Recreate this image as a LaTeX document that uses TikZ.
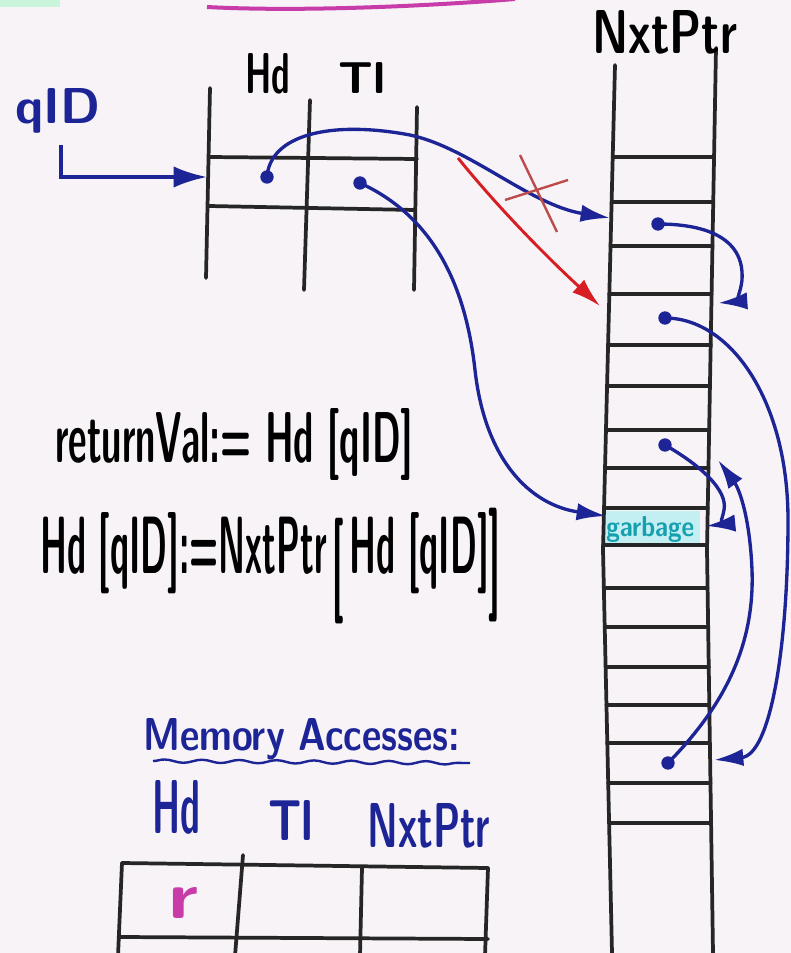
\documentclass[tikz,border=0pt]{standalone}
\usepackage{graphicx}
\usetikzlibrary{arrows.meta,decorations.pathmorphing}
\definecolor{bg}{RGB}{247,243,247}
\definecolor{ink}{RGB}{38,38,38}
\definecolor{pen}{RGB}{28,36,150}
\definecolor{redpen}{RGB}{215,30,35}
\definecolor{xred}{RGB}{190,75,75}
\definecolor{mag}{RGB}{200,60,170}
\definecolor{gteal}{RGB}{20,160,175}
\definecolor{cyanbg}{RGB}{195,238,242}
\definecolor{mint}{RGB}{200,245,220}
\newcommand{\hw}[3]{\resizebox{#1}{#2}{\sffamily\bfseries #3}}
\newcommand{\tallL}{\raisebox{-0.3em}{\scalebox{1}[1.3]{[}}}
\newcommand{\tallR}{\raisebox{-0.25em}{\scalebox{1}[1.4]{]}}}
\begin{document}
\begin{tikzpicture}[x=0.75pt,y=-0.75pt,
  grid/.style={ink, line width=2.8pt, line cap=round},
  ptr/.style={pen, line width=2.5pt, -{Latex[length=22pt,width=13pt]}},
  redarr/.style={redpen, line width=2.2pt, -{Latex[length=22pt,width=13pt]}},
  lbl/.style={inner sep=0pt, anchor=base west},
  dot/.style={pen}]
\useasboundingbox (0,0) rectangle (791,953);
\fill[bg] (0,0) rectangle (791,953);
\clip (0,0) rectangle (791,953);
% top remnants
\fill[mint] (0,0) rectangle (60,7);
\draw[mag, line width=3pt] (207,7) .. controls (300,12) and (430,6) .. (515,-1);
% garbage highlight
\fill[cyanbg] (604,511) rectangle (700,544);
% NxtPtr column
\draw[grid] (615,65) -- (603,550) -- (612,953);
\draw[grid] (716,48) -- (707,550) -- (713,953);
\foreach \yy in {157,202,246,294,345,386,430,468,508,545,588,627,667,705,743,783,823}{
  \pgfmathsetmacro\xl{\yy<550 ? 615-12*(\yy-65)/485 : 603+9*(\yy-550)/403}
  \pgfmathsetmacro\xr{\yy<550 ? 716-9*(\yy-48)/502 : 707+6*(\yy-550)/403}
  \draw[grid] (\xl,\yy) -- (\xr,\yy);
}
\node[lbl] (lNxt) at (592,53) {\hw{108.75pt}{32.25pt}{NxtPtr}};
\node[lbl, text=gteal] (lgarb) at (606,536) {\hw{66pt}{15pt}{garbage}};
% Hd/Tl table
\draw[grid] (210,88) -- (206,278);
\draw[grid] (310,100) -- (304,290);
\draw[grid] (417,107) -- (414,290);
\draw[grid] (210,157) -- (417,159);
\draw[grid] (209,206) -- (415,210);
\node[lbl] (lHd) at (245,93) {\hw{33.75pt}{30pt}{Hd}};
\node[lbl] (lTl) at (338,93) {\hw{35.25pt}{23.25pt}{Tl}};
% qID
\node[lbl, text=pen] (qid) at (15,123) {\hw{63.75pt}{26.25pt}{qID}};
\coordinate (qs) at (61,145);
\coordinate (tin) at (207,177);
\draw[pen, line width=2.8pt, -{Latex[length=25pt,width=16pt]}] (qs) |- (tin);
% coordinates
\coordinate (dHd) at (267,177);
\coordinate (dTl) at (360,183);
\coordinate (tA0) at (610,218);
\coordinate (tG) at (606,516);
\coordinate (rs) at (458,158);
\coordinate (rt) at (600,306);
\coordinate (dA) at (658,224);
\coordinate (tA) at (718,303);
\coordinate (dB) at (665,318);
\coordinate (tB) at (714,760);
\coordinate (dC) at (665,445);
\coordinate (tC) at (706,526);
\coordinate (dD) at (668,763);
\coordinate (tD) at (718,460);
% pointers
\draw[ptr] (dHd) .. controls (270,135) and (330,120) .. (410,135) .. controls (470,148) and (530,205) .. (tA0);
\draw[redarr] (rs) .. controls (500,210) and (550,260) .. (rt);
\draw[xred, line width=1.8pt] (520,155) -- (557,232);
\draw[xred, line width=1.8pt] (505,200) -- (568,180);
\draw[ptr] (dTl) .. controls (430,215) and (465,280) .. (475,370) .. controls (485,460) and (530,505) .. (tG);
\draw[ptr] (dA) .. controls (700,224) and (745,235) .. (742,280) .. controls (740,298) and (732,302) .. (tA);
\draw[ptr] (dB) .. controls (730,318) and (788,400) .. (788,520) .. controls (788,650) and (770,755) .. (tB);
\draw[ptr] (dC) .. controls (700,465) and (728,490) .. (724,510) .. controls (722,522) and (716,525) .. (tC);
\draw[ptr] (dD) .. controls (720,710) and (755,650) .. (752,570) .. controls (750,520) and (740,490) .. (tD);
\foreach \p in {dHd,dTl,dA,dB,dC,dD}{\fill[dot] (\p) circle (5pt);}
% equations
\node[lbl] (eq1) at (55,462) {\hw{268.5pt}{40.5pt}{returnVal:= Hd [qID]}};
\node[lbl] (eq2) at (40,573) {\hw{345pt}{48.75pt}{Hd [qID]:=NxtPtr\,\tallL\,Hd [qID]\tallR}};
% memory accesses
\node[lbl, text=pen] (mem) at (143,750) {\hw{237.75pt}{24pt}{Memory Accesses:}};
\draw[pen, line width=1.8pt, decorate, decoration={snake, amplitude=1.2pt, segment length=28pt}] (153,761) -- (470,763);
\node[lbl, text=pen] (mHd) at (152,833) {\hw{36pt}{39.75pt}{Hd}};
\node[lbl, text=pen] (mTl) at (268,840) {\hw{33.75pt}{30pt}{Tl}};
\node[lbl, text=pen] (mNxt) at (367,847) {\hw{92.25pt}{33pt}{NxtPtr}};
% bottom table
\draw[grid] (122,863) -- (488,868);
\draw[grid] (120,937) -- (488,939);
\draw[grid] (122,863) -- (118,956);
\draw[grid] (243,855) -- (235,956);
\draw[grid] (362,868) -- (360,956);
\draw[grid] (488,868) -- (485,956);
\node[lbl, text=mag] (rr) at (168,918) {\hw{22.5pt}{23.25pt}{r}};
\end{tikzpicture}
\end{document}
